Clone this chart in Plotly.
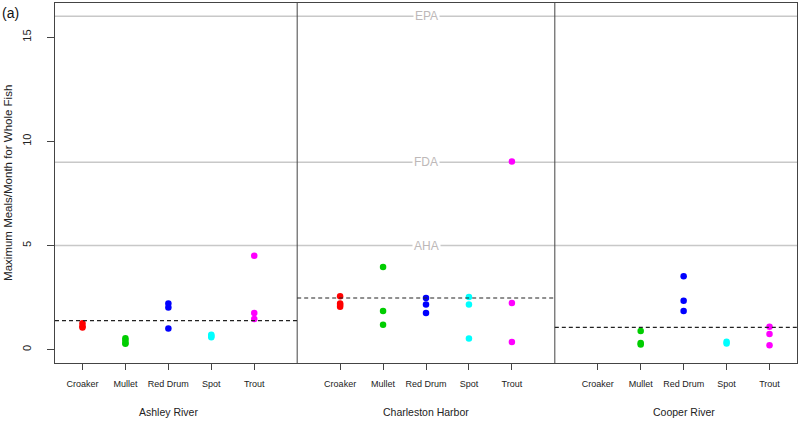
import plotly.graph_objects as go

species = ["Croaker", "Mullet", "Red Drum", "Spot", "Trout"]
locations = ["Ashley River", "Charleston Harbor", "Cooper River"]
colors = ["#FF0000", "#00CD00", "#0000FF", "#00FFFF", "#FF00FF"]

# meals/month values per location, per species
ashley = {
    "Croaker": [1.27, 1.07, 1.12],
    "Mullet": [0.55, 0.45, 0.32, 0.28],
    "Red Drum": [2.22, 2.03, 1.02],
    "Spot": [0.72, 0.60, 0.66],
    "Trout": [4.51, 1.76, 1.47],
}
harbor = {
    "Croaker": [2.56, 2.22, 2.14, 2.06],
    "Mullet": [3.97, 1.86, 1.20],
    "Red Drum": [2.48, 2.17, 1.76],
    "Spot": [2.53, 2.17, 0.54],
    "Trout": [9.03, 2.24, 0.37],
}
cooper = {
    "Croaker": [],
    "Mullet": [0.90, 0.32, 0.25],
    "Red Drum": [3.52, 2.35, 1.86],
    "Spot": [0.38, 0.30],
    "Trout": [1.10, 0.75, 0.21],
}
location_data = [ashley, harbor, cooper]
location_means = [1.39, 2.48, 1.07]

guideline_names = ["AHA", "FDA", "EPA"]
guideline_values = [5, 9, 16]

y_ticks = [0, 5, 10, 15]

fig = go.Figure()

tickvals, ticktext = [], []
for li, data in enumerate(location_data):
    offset = li * 6
    for si, sp in enumerate(species):
        xpos = offset + si + 1
        tickvals.append(xpos)
        ticktext.append(sp)
        vals = data[sp]
        if vals:
            fig.add_trace(go.Scatter(
                x=[xpos] * len(vals), y=vals, mode="markers",
                marker=dict(color=colors[si], size=6.5, line=dict(width=0)),
                showlegend=False, hoverinfo="y"))

xmin, xmax = 0.36, 17.64
ymin, ymax = -0.64, 16.64

# guideline lines
for name, val in zip(guideline_names, guideline_values):
    fig.add_shape(type="line", xref="x", yref="y", x0=xmin, x1=xmax, y0=val, y1=val,
                  line=dict(color="#c8c8c8", width=1.5), layer="below")
    fig.add_annotation(x=9, y=val, xref="x", yref="y", text=name, showarrow=False,
                       bgcolor="white", borderpad=1,
                       font=dict(family="Liberation Sans, Arial", size=12, color="#bdb8b8"))

# panel dividers
for xv in [6, 12]:
    fig.add_shape(type="line", xref="x", yref="paper", x0=xv, x1=xv, y0=0, y1=1,
                  line=dict(color="#444444", width=1))

# location mean dashed lines
bounds = [(xmin, 6), (6, 12), (12, xmax)]
for (x0, x1), m in zip(bounds, location_means):
    fig.add_shape(type="line", xref="x", yref="y", x0=x0, x1=x1, y0=m, y1=m,
                  line=dict(color="#222222", width=1.2, dash="4px,3px"))

# location names
for li, name in enumerate(locations):
    fig.add_annotation(x=li * 6 + 3, y=-0.137, xref="x", yref="paper", text=name,
                       showarrow=False, yanchor="middle",
                       font=dict(family="Liberation Sans, Arial", size=10.5, color="#222222"))

# y axis title
fig.add_annotation(x=-0.0635, y=0.5, xref="paper", yref="paper",
                   text="Maximum Meals/Month for Whole Fish", textangle=-90,
                   showarrow=False, xanchor="center", yanchor="middle",
                   font=dict(family="Liberation Sans, Arial", size=11.5, color="#222222"))

# panel tag
fig.add_annotation(x=-0.0745, y=1.0, xref="paper", yref="paper", text="(a)", showarrow=False,
                   xanchor="left", yanchor="top",
                   font=dict(family="Liberation Sans, Arial", size=14, color="#111111"))

fig.update_layout(
    width=800, height=421,
    margin=dict(l=55, r=3, t=3, b=58),
    plot_bgcolor="white", paper_bgcolor="white",
    xaxis=dict(range=[xmin, xmax], tickvals=tickvals, ticktext=ticktext,
               showgrid=False, zeroline=False, ticks="outside", ticklen=6,
               tickcolor="#444444", showline=True, linecolor="#444444", linewidth=1,
               mirror=True, ticklabelstandoff=6,
               tickfont=dict(family="Liberation Sans, Arial", size=9, color="#222222")),
    yaxis=dict(range=[ymin, ymax], tickvals=y_ticks, showgrid=False, zeroline=False,
               ticks="outside", ticklen=7, tickcolor="#444444", showline=True,
               linecolor="#444444", linewidth=1, mirror=True, tickangle=-90,
               ticklabelstandoff=12,
               tickfont=dict(family="Liberation Sans, Arial", size=11, color="#222222")),
)

fig.write_html("out.html", config={"displayModeBar": False},
               post_script="document.body.style.margin='0';document.body.style.padding='0';")
